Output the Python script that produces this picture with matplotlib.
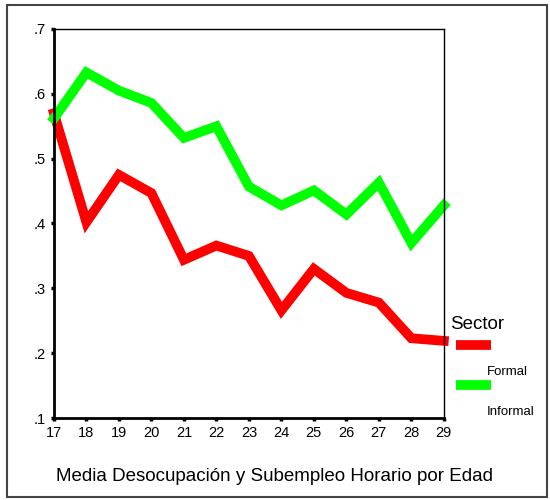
import matplotlib
matplotlib.use('Agg')
import matplotlib.pyplot as plt
from matplotlib.lines import Line2D
from matplotlib.patches import Rectangle

plt.rcParams['font.family'] = ['Liberation Sans', 'DejaVu Sans']

# datos
edades = [17, 18, 19, 20, 21, 22, 23, 24, 25, 26, 27, 28, 29]
formal = [0.570, 0.402, 0.475, 0.447, 0.344, 0.366, 0.350, 0.266, 0.330, 0.293, 0.278, 0.223, 0.219]
informal = [0.562, 0.633, 0.605, 0.586, 0.532, 0.550, 0.457, 0.428, 0.451, 0.414, 0.463, 0.370, 0.428]
y_ticks = [0.1, 0.2, 0.3, 0.4, 0.5, 0.6, 0.7]
y_labels = ['.1', '.2', '.3', '.4', '.5', '.6', '.7']
titulo = 'Media Desocupación y Subempleo Horario por Edad'

fig = plt.figure(figsize=(5.5, 5), dpi=100)
ax = fig.add_axes([0.098, 0.164, 0.709, 0.778])

ax.plot(edades, formal, color='#ff0000', lw=7, solid_joinstyle='miter', clip_on=False)
ax.plot(edades, informal, color='#00ff00', lw=7, solid_joinstyle='miter', clip_on=False)

ax.set_xlim(17, 29)
ax.set_ylim(0.1, 0.7)
ax.set_xticks(edades)
ax.set_yticks(y_ticks)
ax.set_yticklabels(y_labels)
ax.tick_params(direction='out', length=2, width=2.5, labelsize=10.5, pad=4)

for s in ['left', 'bottom']:
    ax.spines[s].set_linewidth(2)
for s in ['top', 'right']:
    ax.spines[s].set_linewidth(1)

# leyenda a mano
fig.text(0.818, 0.342, 'Sector', fontsize=13.5)
fig.add_artist(Line2D([0.829, 0.893], [0.311, 0.311], color='#ff0000', lw=7, solid_capstyle='butt'))
fig.text(0.885, 0.25, 'Formal', fontsize=9.5)
fig.add_artist(Line2D([0.829, 0.893], [0.231, 0.231], color='#00ff00', lw=7, solid_capstyle='butt'))
fig.text(0.885, 0.17, 'Informal', fontsize=9.5)

fig.text(0.5, 0.038, titulo, ha='center', fontsize=13.5)

# marco exterior
fig.add_artist(Rectangle((0.012, 0.006), 0.982, 0.984, transform=fig.transFigure,
                         fill=False, edgecolor='#444444', lw=1.5))

fig.savefig('out.png', dpi=100)
